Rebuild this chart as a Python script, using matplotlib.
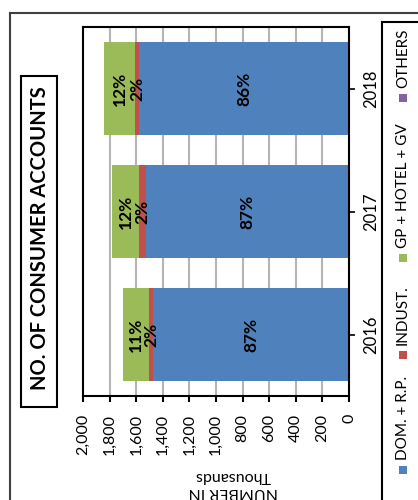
import matplotlib
matplotlib.use("Agg")
import matplotlib.pyplot as plt
from matplotlib.patches import Rectangle
from matplotlib.lines import Line2D

plt.rcParams['font.family'] = ['Lato', 'DejaVu Sans']

years = ["2016", "2017", "2018"]
dom_rp = [1471, 1529, 1577]
indust = [33, 50, 32]
gp_hotel_gv = [197, 201, 233]
others = [0, 0, 0]
dom_lbl = ["87%", "87%", "86%"]
ind_lbl = ["2%", "2%", "2%"]
gp_lbl = ["11%", "12%", "12%"]
series_names = ["DOM. + R.P.", "INDUST.", "GP + HOTEL + GV", "OTHERS"]
colors = ["#4F81BD", "#C0504D", "#9BBB59", "#8064A2"]
xticks = [0, 200, 400, 600, 800, 1000, 1200, 1400, 1600, 1800, 2000]
xtick_labels = ["0", "200", "400", "600", "800", "1,000", "1,200", "1,400", "1,600", "1,800", "2,000"]
title = "NO. OF CONSUMER ACCOUNTS"
axis_title = "NUMBER IN\nThousands"

W, H = 418, 500
fig = plt.figure(figsize=(W / 100, H / 100), dpi=100)
ax = fig.add_axes([83 / W, 104 / H, 266 / W, 369 / H])

ypos = list(range(len(years)))
bh = 0.755
series = [dom_rp, indust, gp_hotel_gv, others]
labels = [dom_lbl, ind_lbl, gp_lbl, None]
left = [0] * len(years)
for s, c, lb in zip(series, colors, labels):
    ax.barh(ypos, s, left=left, height=bh, color=c, edgecolor='none', zorder=2)
    if lb is not None:
        for i in ypos:
            ax.text(left[i] + s[i] / 2, i, lb[i], rotation=90, ha='center', va='center',
                    fontsize=12.5, fontweight='bold', color='black', zorder=3)
    left = [l + v for l, v in zip(left, s)]

ax.set_xlim(2000, 0)
ax.set_ylim(-0.5, len(years) - 0.5)
ax.set_xticks(xticks)
ax.set_xticklabels(xtick_labels, rotation=90, ha='center', va='top', fontsize=11.5)
ax.xaxis.grid(True, color='#B4B4B4', linewidth=1.5, zorder=0)
ax.set_axisbelow(True)
ax.tick_params(axis='x', direction='out', length=4, width=1.5, pad=9)

ax.yaxis.tick_right()
ax.set_yticks(ypos)
ax.set_yticklabels(years, rotation=90, va='center', ha='left', fontsize=12)
ax.tick_params(axis='y', direction='out', length=4, width=1.2, pad=6)

for sp in ax.spines.values():
    sp.set_color('black')
    sp.set_linewidth(1.5)

fig.text(233 / W, 1 - 484 / H, axis_title, rotation=180, ha='center', va='center',
         multialignment='center', fontsize=11.5, linespacing=1.1)

# title with box
fig.text(40 / W, 1 - 238 / H, title, rotation=90, ha='center', va='center',
         fontsize=14.5, fontweight='bold')
fig.add_artist(Rectangle((21 / W, 1 - 407 / H), 36 / W, 331 / H, transform=fig.transFigure,
                         fill=False, edgecolor='black', linewidth=1.5))

# outer frame
fig.add_artist(Line2D([10 / W, 10 / W], [0, 1 - 13 / H], transform=fig.transFigure,
                      color='#404040', linewidth=1.5))
fig.add_artist(Line2D([10 / W, 1], [1 - 13 / H, 1 - 13 / H], transform=fig.transFigure,
                      color='#404040', linewidth=1.5))

# legend frame
fig.add_artist(Line2D([382 / W, 382 / W], [0, 1 - 22 / H], transform=fig.transFigure,
                      color='black', linewidth=1.5))
fig.add_artist(Line2D([382 / W, 1], [1 - 22 / H, 1 - 22 / H], transform=fig.transFigure,
                      color='black', linewidth=1.5))

leg_starts = [460, 345, 248, 88]
lx = 403
for name, c, ys in zip(series_names, colors, leg_starts):
    fig.add_artist(Rectangle(((lx - 4) / W, 1 - (ys + 14) / H), 8 / W, 8 / H,
                             transform=fig.transFigure, facecolor=c, edgecolor='none'))
    fig.text(lx / W, 1 - ys / H, name, rotation=90, rotation_mode='anchor',
             ha='left', va='center', fontsize=11)

fig.savefig("out.png", dpi=100)
